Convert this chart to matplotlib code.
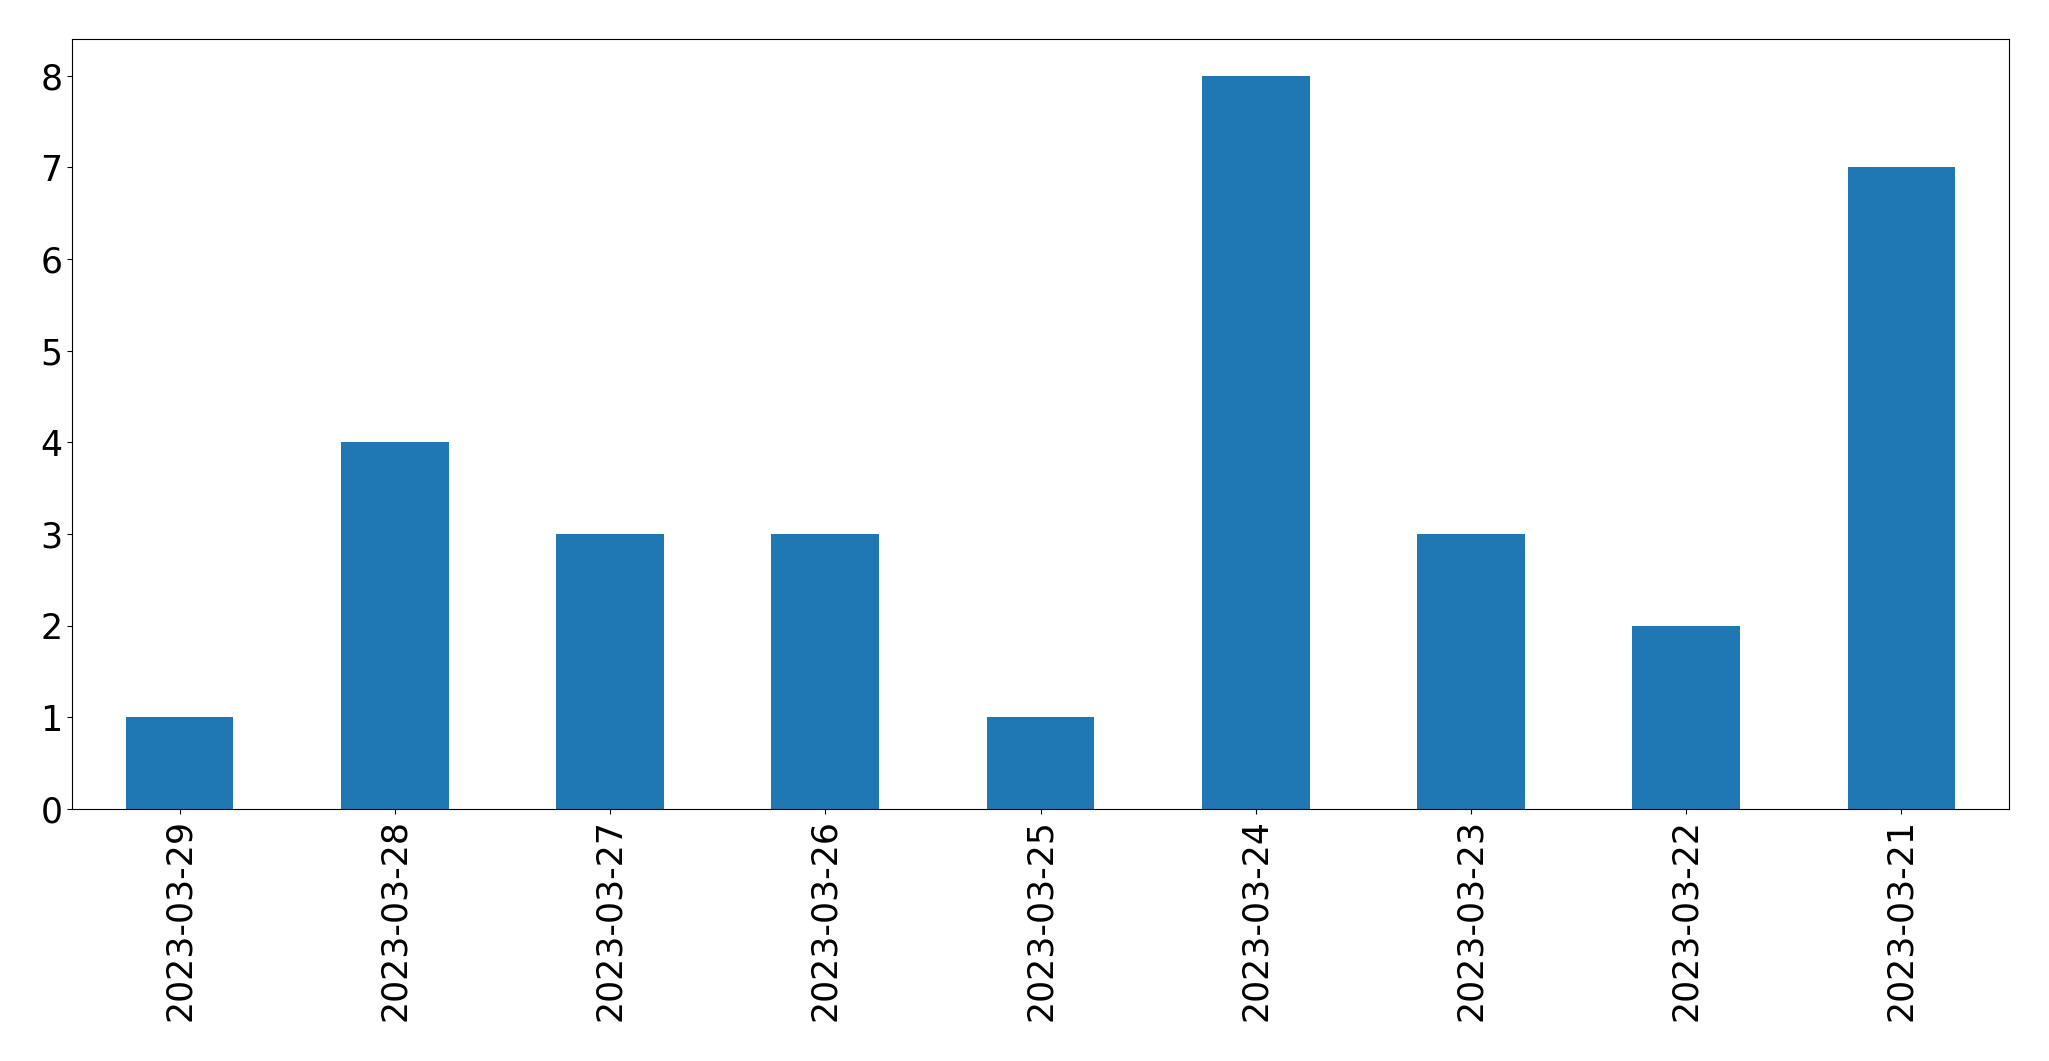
import matplotlib
matplotlib.use('Agg')
import matplotlib.pyplot as plt
import pandas as pd

dates = ['2023-03-29', '2023-03-28', '2023-03-27', '2023-03-26', '2023-03-25',
         '2023-03-24', '2023-03-23', '2023-03-22', '2023-03-21']
counts = [1, 4, 3, 3, 1, 8, 3, 2, 7]

s = pd.Series(counts, index=dates)

fig, ax = plt.subplots(figsize=(20.49, 10.61), dpi=100)
s.plot.bar(ax=ax, color='#1f77b4')
ax.tick_params(axis='both', labelsize=25)
ax.set_ylim(0, 8.4)
fig.subplots_adjust(left=72/2049, right=2009/2049, top=1-39/1061, bottom=1-809/1061)
fig.savefig('out.png', dpi=100)
